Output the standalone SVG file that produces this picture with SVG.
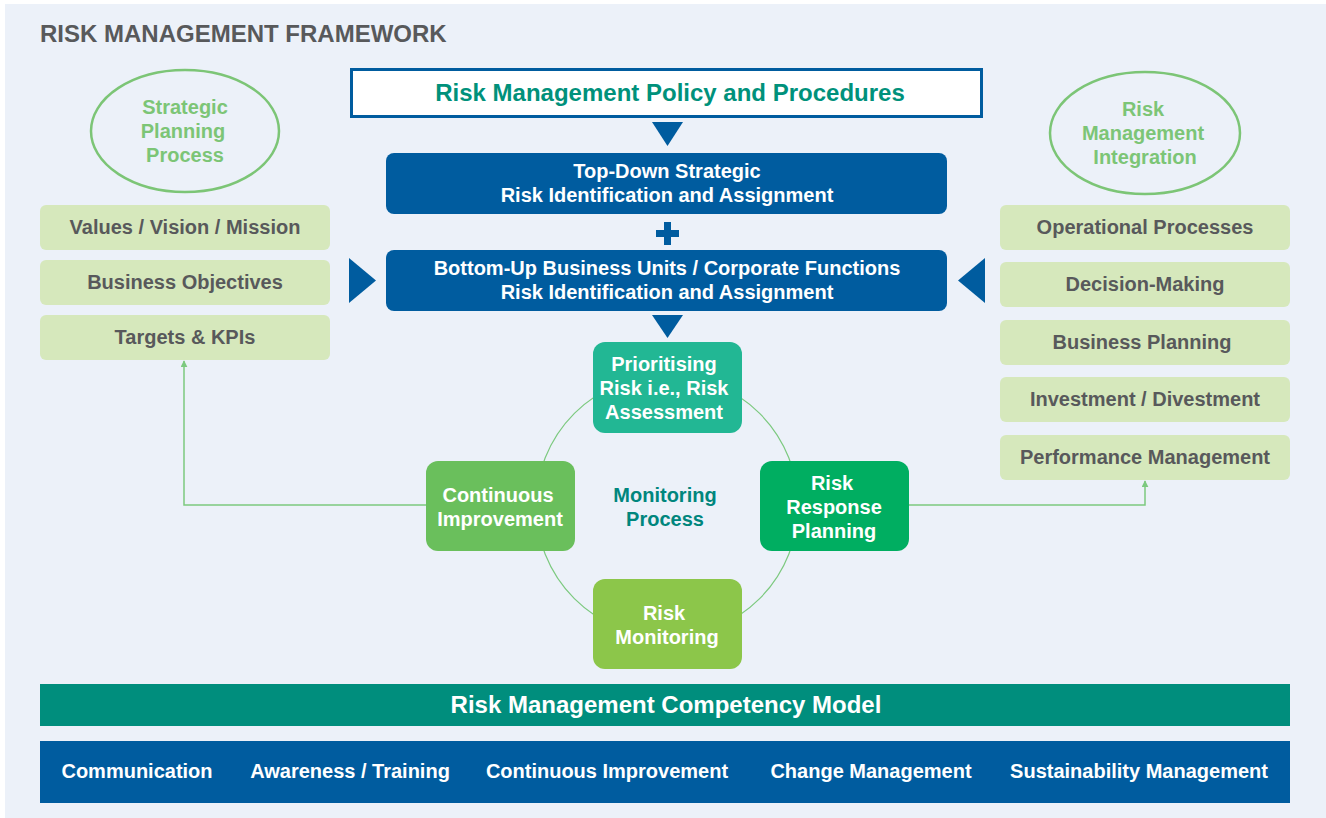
<svg xmlns="http://www.w3.org/2000/svg" width="1326" height="818" viewBox="0 0 1326 818">
<defs>
<style>
text{font-family:"Liberation Sans",Arial,sans-serif;font-weight:bold;text-anchor:middle;font-size:20px}
.w{fill:#ffffff}
.g{fill:#58595b}
.lg{fill:#7cc576}
.pill{fill:#d6e8bc}
.blue{fill:#005c9f}
.ell{fill:none;stroke:#7cc576;stroke-width:2.5}
.conn{fill:none;stroke:#7cc97f;stroke-width:1.5}
.big{font-size:24px}
</style>
<marker id="ah" viewBox="0 0 10 10" refX="9" refY="5" markerWidth="7" markerHeight="7" orient="auto" markerUnits="userSpaceOnUse">
<path d="M0,0 L10,5 L0,10 z" fill="#7cc97f"/>
</marker>
</defs>
<rect x="0" y="0" width="1326" height="818" fill="#ffffff"/>
<rect x="5" y="4" width="1321" height="814" fill="#ecf1f9"/>
<text x="40" y="42" class="g" style="text-anchor:start;font-size:24px">RISK MANAGEMENT FRAMEWORK</text>

<g id="connectors">
<circle cx="667" cy="506" r="131" fill="none" stroke="#7cc97f" stroke-width="1.2"/>
<polyline class="conn" points="426,505 184,505 184,361" marker-end="url(#ah)"/>
<polyline class="conn" points="909,505 1145,505 1145,481" marker-end="url(#ah)"/>
<path d="M652,122 L683,122 L667.5,146 z" class="blue"/>
<path d="M664,222 h7 v8 h8 v7 h-8 v8 h-7 v-8 h-8 v-7 h8 z" class="blue"/>
<path d="M349,258 L376,280.5 L349,303 z" class="blue"/>
<path d="M985,258 L958,280.5 L985,303 z" class="blue"/>
<path d="M652,315 L683,315 L667.5,338 z" class="blue"/>
</g>

<g id="policy">
<rect x="351.5" y="69.5" width="630" height="47" fill="#ffffff" stroke="#005c9f" stroke-width="3"/>
<text x="670" y="101" class="big" style="fill:#00917b">Risk Management Policy and Procedures</text>
</g>
<g id="topdown">
<rect x="386" y="153" width="561" height="61" rx="8" class="blue"/>
<text x="667" y="178" class="w">Top-Down Strategic</text>
<text x="667" y="202" class="w">Risk Identification and Assignment</text>
</g>
<g id="bottomup">
<rect x="386" y="250" width="561" height="61" rx="8" class="blue"/>
<text x="667" y="275" class="w">Bottom-Up Business Units / Corporate Functions</text>
<text x="667" y="299" class="w">Risk Identification and Assignment</text>
</g>

<g id="strategic-planning">
<ellipse cx="185" cy="131" rx="94" ry="61" class="ell"/>
<text x="185" y="114" class="lg">Strategic</text>
<text x="183" y="138" class="lg">Planning</text>
<text x="185" y="162" class="lg">Process</text>
</g>
<g id="values">
<rect x="40" y="205" width="290" height="45" rx="6" class="pill"/>
<text x="185" y="234" class="g">Values / Vision / Mission</text>
</g>
<g id="objectives">
<rect x="40" y="260" width="290" height="45" rx="6" class="pill"/>
<text x="185" y="289" class="g">Business Objectives</text>
</g>
<g id="targets">
<rect x="40" y="315" width="290" height="45" rx="6" class="pill"/>
<text x="185" y="344" class="g">Targets &amp; KPIs</text>
</g>

<g id="rm-integration">
<ellipse cx="1145" cy="133" rx="95" ry="61" class="ell"/>
<text x="1143" y="116" class="lg">Risk</text>
<text x="1143" y="140" class="lg">Management</text>
<text x="1145" y="164" class="lg">Integration</text>
</g>
<g id="operational">
<rect x="1000" y="205" width="290" height="45" rx="6" class="pill"/>
<text x="1145" y="234" class="g">Operational Processes</text>
</g>
<g id="decision">
<rect x="1000" y="262" width="290" height="45" rx="6" class="pill"/>
<text x="1145" y="291" class="g">Decision-Making</text>
</g>
<g id="business-planning">
<rect x="1000" y="320" width="290" height="45" rx="6" class="pill"/>
<text x="1142" y="349" class="g">Business Planning</text>
</g>
<g id="investment">
<rect x="1000" y="377" width="290" height="45" rx="6" class="pill"/>
<text x="1145" y="406" class="g">Investment / Divestment</text>
</g>
<g id="performance">
<rect x="1000" y="435" width="290" height="45" rx="6" class="pill"/>
<text x="1145" y="464" class="g">Performance Management</text>
</g>

<g id="prioritising">
<rect x="593" y="342" width="149" height="91" rx="12" fill="#22b794"/>
<text x="664" y="371" class="w">Prioritising</text>
<text x="664" y="395" class="w">Risk i.e., Risk</text>
<text x="664" y="419" class="w">Assessment</text>
</g>
<g id="continuous">
<rect x="426" y="461" width="149" height="90" rx="12" fill="#6abf5c"/>
<text x="498" y="502" class="w">Continuous</text>
<text x="500" y="526" class="w">Improvement</text>
</g>
<g id="monitoring-process">
<text x="665" y="502" style="fill:#00867d">Monitoring</text>
<text x="665" y="526" style="fill:#00867d">Process</text>
</g>
<g id="response">
<rect x="760" y="461" width="149" height="90" rx="12" fill="#00ae61"/>
<text x="832" y="490" class="w">Risk</text>
<text x="834" y="514" class="w">Response</text>
<text x="834" y="538" class="w">Planning</text>
</g>
<g id="monitoring">
<rect x="593" y="579" width="149" height="90" rx="12" fill="#8cc64a"/>
<text x="664" y="620" class="w">Risk</text>
<text x="667" y="644" class="w">Monitoring</text>
</g>

<g id="competency">
<rect x="40" y="684" width="1250" height="42" fill="#008e7d"/>
<text x="666" y="713" class="w big">Risk Management Competency Model</text>
</g>
<g id="pillars">
<rect x="40" y="741" width="1250" height="62" class="blue"/>
<text x="137" y="778" class="w">Communication</text>
<text x="350" y="778" class="w">Awareness / Training</text>
<text x="607" y="778" class="w">Continuous Improvement</text>
<text x="871" y="778" class="w">Change Management</text>
<text x="1139" y="778" class="w">Sustainability Management</text>
</g>
</svg>
